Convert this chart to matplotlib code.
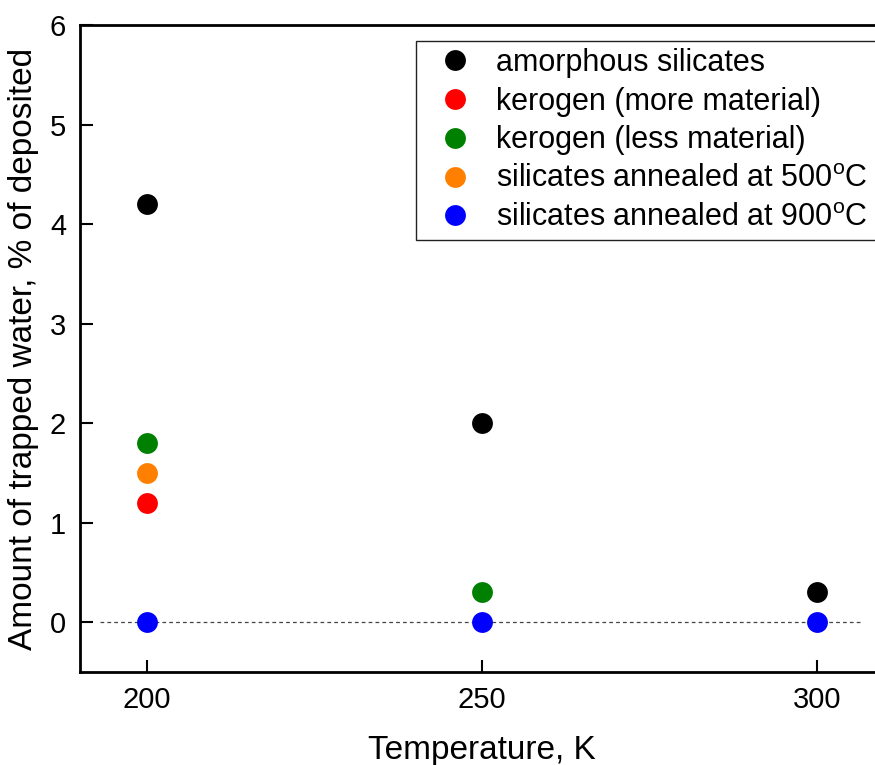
import matplotlib
matplotlib.use("Agg")
import matplotlib.pyplot as plt

plt.rcParams['font.family'] = ['Liberation Sans', 'DejaVu Sans']
plt.rcParams['mathtext.fontset'] = 'custom'
plt.rcParams['mathtext.rm'] = 'Liberation Sans'
plt.rcParams['mathtext.it'] = 'Liberation Sans:italic'

# data
series_names = ['amorphous silicates',
                'kerogen (more material)',
                'kerogen (less material)',
                'silicates annealed at 500$^{\\mathrm{o}}$C',
                'silicates annealed at 900$^{\\mathrm{o}}$C']
series_colors = ['black', '#ff0000', '#008000', '#ff8000', '#0000ff']
amorphous_T = [200, 250, 300]
amorphous_y = [4.2, 2.0, 0.3]
kerogen_more_T = [200]
kerogen_more_y = [1.2]
kerogen_less_T = [200, 250]
kerogen_less_y = [1.8, 0.3]
annealed500_T = [200]
annealed500_y = [1.5]
annealed900_T = [200, 250, 300]
annealed900_y = [0.0, 0.0, 0.0]

xticks = [200, 250, 300]
yticks = [0, 1, 2, 3, 4, 5, 6]

fig = plt.figure(figsize=(8.75, 7.65), dpi=100)
W, H = 875.0, 765.0
# axes extends past the right edge of the picture (cropped)
ax = fig.add_axes([80 / W, (H - 672) / H, 804 / W, 647 / H])

all_T = [amorphous_T, kerogen_more_T, kerogen_less_T, annealed500_T, annealed900_T]
all_y = [amorphous_y, kerogen_more_y, kerogen_less_y, annealed500_y, annealed900_y]

# zero reference line
ax.plot([193, 306.5], [0, 0], ls=(0, (3, 2.5)), color='#444444', lw=0.9, zorder=1)

for T, y, c, name in zip(all_T, all_y, series_colors, series_names):
    ax.plot(T, y, 'o', ms=15, color=c, mec='none', label=name, zorder=3)

ax.set_xlim(190, 310)
ax.set_ylim(-0.5, 6)
ax.set_xticks(xticks)
ax.set_yticks(yticks)

for s in ['left', 'top', 'bottom']:
    ax.spines[s].set_linewidth(2)
ax.spines['right'].set_visible(False)
ax.tick_params(direction='in', length=9, width=1.5, labelsize=21, pad=10)
ax.tick_params(axis='x', top=False)
ax.tick_params(axis='y', right=False)

ax.set_xlabel('Temperature, K', fontsize=24, labelpad=15)
ax.set_ylabel('Amount of trapped water, % of deposited', fontsize=24, labelpad=8)

leg = ax.legend(loc='upper left', bbox_to_anchor=(416 / W, 0, 470 / W, 1 - 41 / H),
                bbox_transform=fig.transFigure, mode='expand', borderaxespad=0,
                fontsize=22, frameon=True, fancybox=False, framealpha=1,
                edgecolor='#222222', borderpad=0.22, labelspacing=0.29,
                handlelength=2.1, handletextpad=0.3, markerscale=1.0)
leg.get_frame().set_linewidth(1)

fig.savefig('out.png', dpi=100)
